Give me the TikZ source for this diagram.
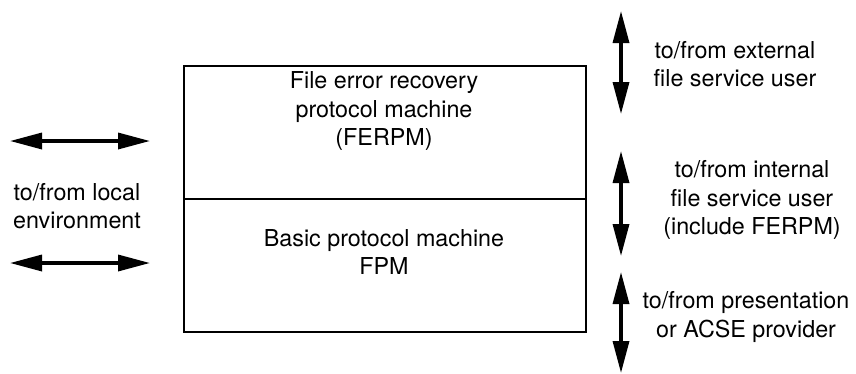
\documentclass[tikz,border=0pt]{standalone}
\usepackage{fontspec}
\setmainfont{TeX Gyre Heros}
\usetikzlibrary{arrows.meta}
\begin{document}
\begin{tikzpicture}[x=1pt,y=-1pt,
  lbl/.style={font=\fontsize{23.3}{28.5}\selectfont, align=center, inner sep=0pt},
  dbl/.style={line width=3.4pt, {Triangle[length=32pt,width=16pt]}-{Triangle[length=32pt,width=16pt]}},
  frame/.style={line width=2pt}]
\useasboundingbox (0,0) rectangle (856,373);
% box
\node[frame, draw, minimum width=402pt, minimum height=133pt, inner sep=0pt, anchor=north west] (top) at (183,65) {};
\node[frame, draw, minimum width=402pt, minimum height=133pt, inner sep=0pt, anchor=north west] (bot) at (183,198) {};
\node[lbl] (toptxt) at (384,111) {File error recovery\\protocol machine\\(FERPM)};
\node[lbl] (bottxt) at (384,252) {Basic protocol machine\\FPM};
% left
\coordinate (l1a) at (10,141); \coordinate (l1b) at (150,141);
\coordinate (l2a) at (10,263); \coordinate (l2b) at (150,263);
\draw[dbl] (l1a) -- (l1b);
\draw[dbl] (l2a) -- (l2b);
\node[lbl] (ltxt) at (77,206) {to/from local\\environment};
% right
\coordinate (r1a) at (621,11); \coordinate (r1b) at (621,114);
\coordinate (r2a) at (621,151); \coordinate (r2b) at (621,256);
\coordinate (r3a) at (621,272); \coordinate (r3b) at (621,373);
\draw[dbl] (r1a) -- (r1b);
\draw[dbl] (r2a) -- (r2b);
\draw[dbl] (r3a) -- (r3b);
\node[lbl] (rt1) at (735,64) {to/from external\\file service user};
\node[lbl] (rt2) at (752,200) {to/from internal\\file service user\\(include FERPM)};
\node[lbl] (rt3) at (746,317) {to/from presentation\\or ACSE provider};
\end{tikzpicture}
\end{document}
